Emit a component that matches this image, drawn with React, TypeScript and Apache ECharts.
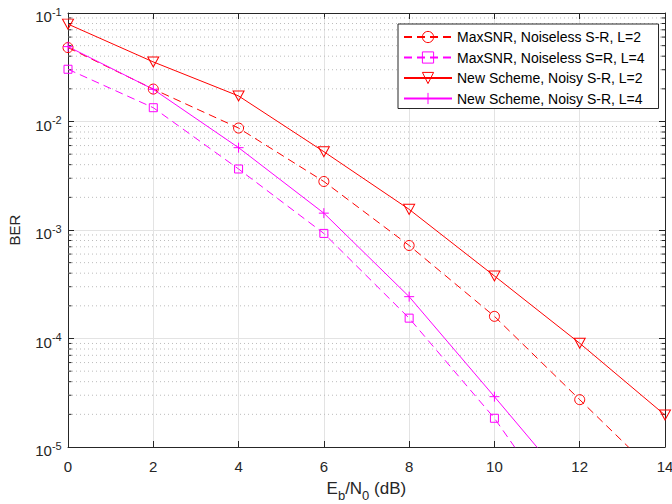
import React, { useEffect, useRef } from "react";
import * as echarts from "echarts";

const xValues = [0, 2, 4, 6, 8, 10, 12, 14];
const maxSnrL2 = [0.048, 0.0199, 0.0087, 0.0028, 7.2e-4, 1.6e-4, 2.73e-5, 4.7e-6];
const maxSnrL4 = [0.0303, 0.0134, 3.65e-3, 9.3e-4, 1.54e-4, 1.84e-5, 1.4e-6];
const newL2 = [0.079, 0.0354, 0.0172, 5.27e-3, 1.55e-3, 3.77e-4, 9.04e-5, 1.97e-5];
const newL4 = [0.049, 0.0198, 5.74e-3, 1.43e-3, 2.43e-4, 2.91e-5, 3.4e-6];

const seriesNames = [
  "MaxSNR, Noiseless S-R, L=2",
  "MaxSNR, Noiseless S=R, L=4",
  "New Scheme, Noisy S-R, L=2",
  "New Scheme, Noisy S-R, L=4",
];

const decades = [1e-5, 1e-4, 1e-3, 1e-2];
const minorMultipliers = [2, 3, 4, 5, 6, 7, 8, 9];

const RED = "#ff0000";
const MAG = "#ff00ff";
const AX = "#262626";
const FONT = "'Liberation Sans', Arial, Helvetica, sans-serif";

const pair = (ys: number[]) => ys.map((y, i) => [xValues[i], y]);

export default function App() {
  const ref = useRef<HTMLDivElement>(null);
  useEffect(() => {
    if (!ref.current) return;
    const chart = echarts.init(ref.current, undefined, { renderer: "svg" });
    const minorValues: number[] = [];
    decades.forEach((d) => minorMultipliers.forEach((m) => minorValues.push(d * m)));

    const yLabelRich = {
      b: { fontSize: 15, verticalAlign: "bottom", color: AX, fontFamily: FONT },
      s: { fontSize: 11, height: 19, verticalAlign: "top", color: AX, fontFamily: FONT },
      h: { fontSize: 1, lineHeight: 22, verticalAlign: "middle" },
    };

    const commonX = {
      type: "value",
      min: 0,
      max: 14,
      interval: 2,
    };
    const commonY = {
      type: "log",
      logBase: 10,
      min: 1e-5,
      max: 1e-1,
      interval: 1,
    };

    const option: any = {
      animation: false,
      backgroundColor: "#ffffff",
      grid: { left: 68, right: 7, top: 13, bottom: 57, containLabel: false, outerBoundsMode: "none" },
      legend: {
        data: seriesNames,
        orient: "vertical",
        left: 398,
        top: 24,
        padding: [6, 14, 3, 5],
        itemGap: 6.5,
        itemWidth: 48,
        itemHeight: 14,
        backgroundColor: "#ffffff",
        borderColor: AX,
        borderWidth: 1,
        selectedMode: false,
        itemStyle: { borderWidth: 1 },
        textStyle: { fontSize: 14, color: "#000000", fontFamily: FONT },
      },
      xAxis: [
        {
          ...commonX,
          position: "bottom",
          name: "{n|E}{s|b}{n|/N}{s|0}{n| (dB)}{h| }",
          nameLocation: "middle",
          nameGap: 33,
          nameTextStyle: {
            rich: {
              n: { fontSize: 17, verticalAlign: "top", color: AX, fontFamily: FONT },
              s: { fontSize: 13, verticalAlign: "bottom", color: AX, fontFamily: FONT },
              h: { fontSize: 1, lineHeight: 22, verticalAlign: "middle" },
            },
          },
          axisLine: { show: true, onZero: false, lineStyle: { color: AX, width: 1 } },
          axisTick: { show: true, inside: true, length: 6, lineStyle: { color: AX } },
          axisLabel: { show: true, margin: 12, fontSize: 15, color: AX, fontFamily: FONT },
          splitLine: { show: true, lineStyle: { color: "#e3e3e3", width: 1 } },
        },
        {
          ...commonX,
          position: "top",
          axisLine: { show: true, onZero: false, lineStyle: { color: AX, width: 1 } },
          axisTick: { show: true, inside: true, length: 6, lineStyle: { color: AX } },
          axisLabel: { show: false },
          splitLine: { show: false },
        },
      ],
      yAxis: [
        {
          ...commonY,
          position: "left",
          name: "BER",
          nameLocation: "middle",
          nameGap: 46,
          nameTextStyle: { fontSize: 15, color: AX, fontFamily: FONT },
          axisLine: { show: true, onZero: false, lineStyle: { color: AX, width: 1 } },
          axisTick: { show: true, inside: true, length: 6, lineStyle: { color: AX } },
          axisLabel: {
            show: true,
            margin: 6,
            formatter: (v: number) => {
              const e = Math.round(Math.log10(v));
              return `{b|10}{s|${e}}{h| }`;
            },
            rich: yLabelRich,
          },
          splitLine: { show: true, lineStyle: { color: "#e3e3e3", width: 1 } },
        },
        {
          ...commonY,
          position: "right",
          axisLine: { show: true, onZero: false, lineStyle: { color: AX, width: 1 } },
          axisTick: { show: true, inside: true, length: 6, lineStyle: { color: AX } },
          axisLabel: { show: false },
          splitLine: { show: false },
        },
      ],
      series: [
        {
          type: "custom",
          name: "minorGrid",
          silent: true,
          z: 1,
          xAxisIndex: 0,
          yAxisIndex: 0,
          data: minorValues.map((v) => [0, v]),
          encode: { x: 0, y: 1 },
          renderItem: (params: any, api: any) => {
            const y = api.coord([0, api.value(1)])[1];
            const cs = params.coordSys;
            const x0 = cs.x;
            const x1 = cs.x + cs.width;
            return {
              type: "group",
              children: [
                {
                  type: "line",
                  shape: { x1: x0, y1: y, x2: x1, y2: y },
                  style: { stroke: "#bcbcbc", lineWidth: 1, lineDash: [1, 3] },
                },
                {
                  type: "line",
                  shape: { x1: x0, y1: y, x2: x0 + 3.5, y2: y },
                  style: { stroke: AX, lineWidth: 1 },
                },
                {
                  type: "line",
                  shape: { x1: x1 - 3.5, y1: y, x2: x1, y2: y },
                  style: { stroke: AX, lineWidth: 1 },
                },
              ],
            };
          },
        },
        {
          type: "line",
          name: seriesNames[0],
          data: pair(maxSnrL2),
          z: 3,
          symbol: "circle",
          symbolSize: 10,
          showAllSymbol: true,
          lineStyle: { color: RED, width: 1, type: [8, 5] },
          itemStyle: { color: "rgba(255,255,255,0)", borderColor: RED, borderWidth: 1 },
        },
        {
          type: "line",
          name: seriesNames[1],
          data: pair(maxSnrL4),
          z: 3,
          symbol: "rect",
          symbolSize: 8,
          lineStyle: { color: MAG, width: 1, type: [8, 5] },
          itemStyle: { color: "rgba(255,255,255,0)", borderColor: MAG, borderWidth: 1 },
        },
        {
          type: "line",
          name: seriesNames[2],
          data: pair(newL2),
          z: 3,
          symbol: "path://M0,0L10,0L5,9Z",
          symbolSize: [11, 10],
          lineStyle: { color: RED, width: 1, type: "solid" },
          itemStyle: { color: "rgba(255,255,255,0)", borderColor: RED, borderWidth: 1 },
        },
        {
          type: "line",
          name: seriesNames[3],
          data: pair(newL4),
          z: 3,
          symbol: "path://M0,5L10,5M5,0L5,10",
          symbolSize: 10,
          lineStyle: { color: MAG, width: 1, type: "solid" },
          itemStyle: { color: "rgba(255,255,255,0)", borderColor: MAG, borderWidth: 1 },
        },
      ],
    };
    chart.setOption(option);
    return () => chart.dispose();
  }, []);

  return (
    <div
      ref={ref}
      style={{ position: "fixed", left: 0, top: 0, width: 672, height: 504, background: "#fff" }}
    />
  );
}
